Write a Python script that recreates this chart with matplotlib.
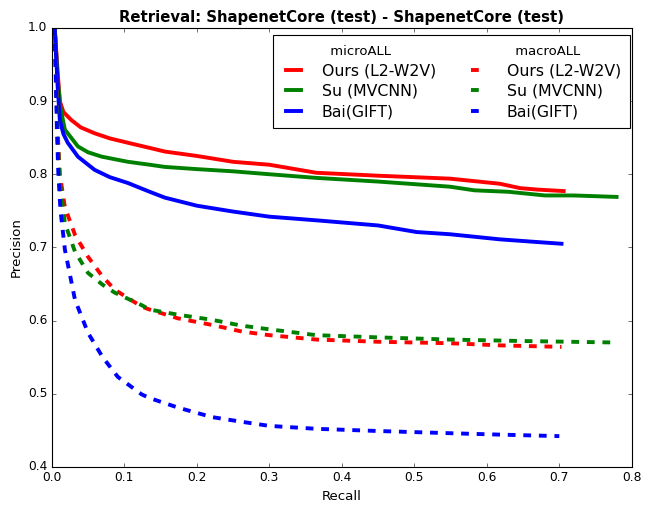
import matplotlib
matplotlib.use("Agg")
import matplotlib.pyplot as plt
from matplotlib.lines import Line2D

plt.style.use("classic")

# Recall / precision values
ours_micro_r = [0.004, 0.008, 0.011, 0.016, 0.027, 0.04, 0.059, 0.08, 0.105, 0.135, 0.156, 0.2, 0.25, 0.3, 0.365, 0.45, 0.549, 0.618, 0.646, 0.67, 0.706]
ours_micro_p = [1.0, 0.94, 0.90, 0.885, 0.874, 0.864, 0.856, 0.849, 0.843, 0.836, 0.831, 0.825, 0.817, 0.813, 0.802, 0.798, 0.794, 0.787, 0.781, 0.779, 0.777]

su_micro_r = [0.004, 0.008, 0.012, 0.018, 0.036, 0.05, 0.069, 0.105, 0.135, 0.156, 0.2, 0.25, 0.3, 0.365, 0.45, 0.549, 0.583, 0.63, 0.68, 0.72, 0.779]
su_micro_p = [1.0, 0.93, 0.89, 0.861, 0.838, 0.83, 0.824, 0.817, 0.813, 0.810, 0.807, 0.804, 0.800, 0.795, 0.790, 0.783, 0.778, 0.776, 0.771, 0.771, 0.769]

bai_micro_r = [0.004, 0.008, 0.011, 0.016, 0.022, 0.036, 0.059, 0.08, 0.105, 0.135, 0.156, 0.2, 0.25, 0.3, 0.365, 0.45, 0.503, 0.549, 0.618, 0.66, 0.703]
bai_micro_p = [1.0, 0.92, 0.874, 0.855, 0.843, 0.824, 0.806, 0.796, 0.788, 0.776, 0.768, 0.757, 0.749, 0.742, 0.737, 0.730, 0.721, 0.718, 0.711, 0.708, 0.705]

ours_macro_r = [0.004, 0.008, 0.011, 0.018, 0.032, 0.05, 0.07, 0.087, 0.124, 0.135, 0.174, 0.221, 0.262, 0.3, 0.365, 0.45, 0.549, 0.62, 0.703]
ours_macro_p = [1.0, 0.86, 0.80, 0.755, 0.717, 0.687, 0.660, 0.642, 0.619, 0.615, 0.603, 0.594, 0.585, 0.580, 0.574, 0.571, 0.569, 0.566, 0.564]

su_macro_r = [0.004, 0.008, 0.011, 0.018, 0.032, 0.05, 0.07, 0.087, 0.124, 0.135, 0.174, 0.221, 0.262, 0.3, 0.365, 0.45, 0.549, 0.65, 0.777]
su_macro_p = [1.0, 0.85, 0.79, 0.733, 0.694, 0.665, 0.649, 0.638, 0.621, 0.615, 0.608, 0.601, 0.593, 0.588, 0.580, 0.577, 0.574, 0.572, 0.570]

bai_macro_r = [0.004, 0.007, 0.009, 0.012, 0.018, 0.032, 0.05, 0.07, 0.091, 0.124, 0.135, 0.174, 0.221, 0.266, 0.3, 0.365, 0.45, 0.549, 0.62, 0.70]
bai_macro_p = [1.0, 0.86, 0.80, 0.75, 0.697, 0.628, 0.583, 0.550, 0.523, 0.499, 0.494, 0.481, 0.468, 0.461, 0.456, 0.452, 0.449, 0.446, 0.444, 0.442]

fig = plt.figure(figsize=(8.1, 6.35), dpi=80, facecolor="white")
ax = fig.add_axes([0.080, 0.081, 0.895, 0.864])

lw = 3.5
dash = (7, 7)
l1, = ax.plot(ours_micro_r, ours_micro_p, color="red", lw=lw, ls="-")
l2, = ax.plot(su_micro_r, su_micro_p, color="green", lw=lw, ls="-")
l3, = ax.plot(bai_micro_r, bai_micro_p, color="blue", lw=lw, ls="-")
l4, = ax.plot(ours_macro_r, ours_macro_p, color="red", lw=lw, ls=(0, dash))
l5, = ax.plot(su_macro_r, su_macro_p, color="green", lw=lw, ls=(0, dash))
l6, = ax.plot(bai_macro_r, bai_macro_p, color="blue", lw=lw, ls=(0, dash))

ax.set_xlim(0, 0.8)
ax.set_ylim(0.4, 1.0)
ax.set_xticks([0.0, 0.1, 0.2, 0.3, 0.4, 0.5, 0.6, 0.7, 0.8])
ax.set_yticks([0.4, 0.5, 0.6, 0.7, 0.8, 0.9, 1.0])
ax.tick_params(labelsize=11)
ax.set_xlabel("Recall", fontsize=12)
ax.set_ylabel("Precision", fontsize=12)
ax.set_title("Retrieval: ShapenetCore (test) - ShapenetCore (test)", fontsize=13.4, fontweight="bold")

blank = Line2D([], [], color="none")
handles = [blank, l1, l2, l3, blank, l4, l5, l6]
labels = ["  microALL", "Ours (L2-W2V)", "Su (MVCNN)", "Bai(GIFT)",
          "  macroALL", "Ours (L2-W2V)", "Su (MVCNN)", "Bai(GIFT)"]
leg = ax.legend(handles, labels, ncol=2, loc="upper right", fontsize=14.2,
                handlelength=1.58, handletextpad=1.0, columnspacing=1.9,
                labelspacing=0.35, borderpad=0.55, fancybox=False,
                borderaxespad=0.0, bbox_to_anchor=(0.9966, 0.984))
for t in leg.get_texts():
    if "ALL" in t.get_text():
        t.set_fontsize(11.8)

fig.savefig("out.png", dpi=80, facecolor="white")
